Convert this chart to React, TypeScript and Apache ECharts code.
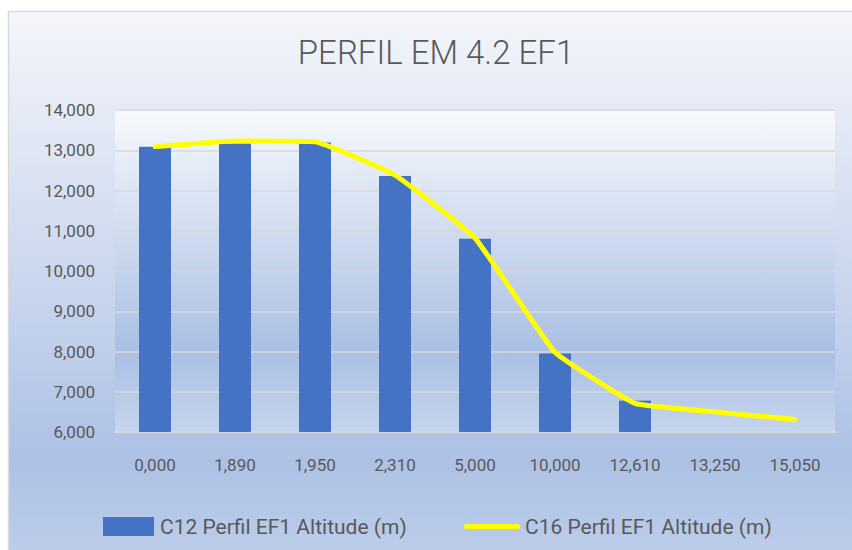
import React, { useEffect, useRef } from "react";
import * as echarts from "echarts";

const categories = ["0,000", "1,890", "1,950", "2,310", "5,000", "10,000", "12,610", "13,250", "15,050"];
const barValues: (number | null)[] = [13090, 13170, 13190, 12360, 10800, 7950, 6780, null, null];
const lineValues = [13090, 13230, 13210, 12380, 10820, 7980, 6710, 6500, 6310];
const barName = "C12 Perfil EF1 Altitude (m)";
const lineName = "C16 Perfil EF1 Altitude (m)";
const titleText = "PERFIL EM 4.2 EF1";

export default function App() {
  const ref = useRef<HTMLDivElement>(null);
  useEffect(() => {
    if (!ref.current) return;
    const chart = echarts.init(ref.current, null, { renderer: "svg" });
    const font = "Roboto, 'Noto Sans', sans-serif";
    chart.setOption({
      animation: false,
      backgroundColor: "#ffffff",
      textStyle: { fontFamily: font },
      title: {
        text: titleText,
        left: 436,
        textAlign: "center",
        top: 36,
        padding: 0,
        textStyle: { fontFamily: font, fontSize: 33, fontWeight: 300, color: "#595959" },
      },
      graphic: [
        {
          type: "rect",
          z: -10,
          silent: true,
          shape: { x: 8.5, y: 11.5, width: 870, height: 560 },
          style: {
            fill: new echarts.graphic.LinearGradient(0, 0, 0, 1, [
              { offset: 0, color: "#f4f6fb" },
              { offset: 0.2, color: "#e3e9f5" },
              { offset: 0.8, color: "#adc1e5" },
              { offset: 1, color: "#bfcfea" },
            ]),
            stroke: "#d9d9d9",
            lineWidth: 1.5,
          },
        },
      ],
      legend: [
        {
          data: [barName],
          left: 103,
          top: 516,
          padding: 0,
          itemWidth: 51,
          itemHeight: 19,
          itemGap: 0,
          icon: "rect",
          textStyle: { fontFamily: font, fontSize: 21, color: "#595959", padding: [0, 0, 0, 1] },
        },
        {
          data: [lineName],
          left: 464,
          top: 516,
          padding: 0,
          itemWidth: 56,
          itemHeight: 19,
          textStyle: { fontFamily: font, fontSize: 21, color: "#595959" },
          icon: "path://M2.5,7 L53.5,7 A2.5,2.5 0 0 1 53.5,12 L2.5,12 A2.5,2.5 0 0 1 2.5,7 Z M0,0 L0.01,0 L0.01,19 L0,19 Z",
        },
      ],
      grid: {
        left: 115,
        top: 110,
        width: 720,
        height: 322,
        show: true,
        borderWidth: 0,
        backgroundColor: new echarts.graphic.LinearGradient(0, 0, 0, 1, [
          { offset: 0, color: "#f7f9fd" },
          { offset: 0.75, color: "#aabfe4" },
          { offset: 1, color: "#c6d5ed" },
        ]),
      },
      xAxis: {
        type: "category",
        data: categories,
        axisLine: { show: true, lineStyle: { color: "#d9d9d9", width: 1.5 } },
        axisTick: { show: false },
        axisLabel: { fontFamily: font, fontSize: 17, color: "#595959", margin: 24 },
      },
      yAxis: {
        type: "value",
        min: 6000,
        max: 14000,
        interval: 1000,
        axisLine: { show: false },
        axisTick: { show: false },
        splitLine: { lineStyle: { color: "#d9d9d9", width: 1.5 } },
        axisLabel: {
          fontFamily: font,
          fontSize: 17,
          color: "#595959",
          margin: 20,
          formatter: (v: number) => v.toLocaleString("en-US"),
        },
      },
      series: [
        {
          name: barName,
          type: "bar",
          data: barValues,
          barWidth: 32,
          itemStyle: { color: "#4472c4" },
        },
        {
          name: lineName,
          type: "line",
          data: lineValues,
          smooth: 0.1,
          showSymbol: false,
          symbol: "none",
          lineStyle: { color: "#ffff00", width: 5, cap: "round", join: "round" },
          itemStyle: { color: "#ffff00" },
        },
      ],
    });
    return () => chart.dispose();
  }, []);
  return (
    <div
      ref={ref}
      style={{ position: "absolute", left: 0, top: 0, width: 852, height: 550 }}
    />
  );
}
